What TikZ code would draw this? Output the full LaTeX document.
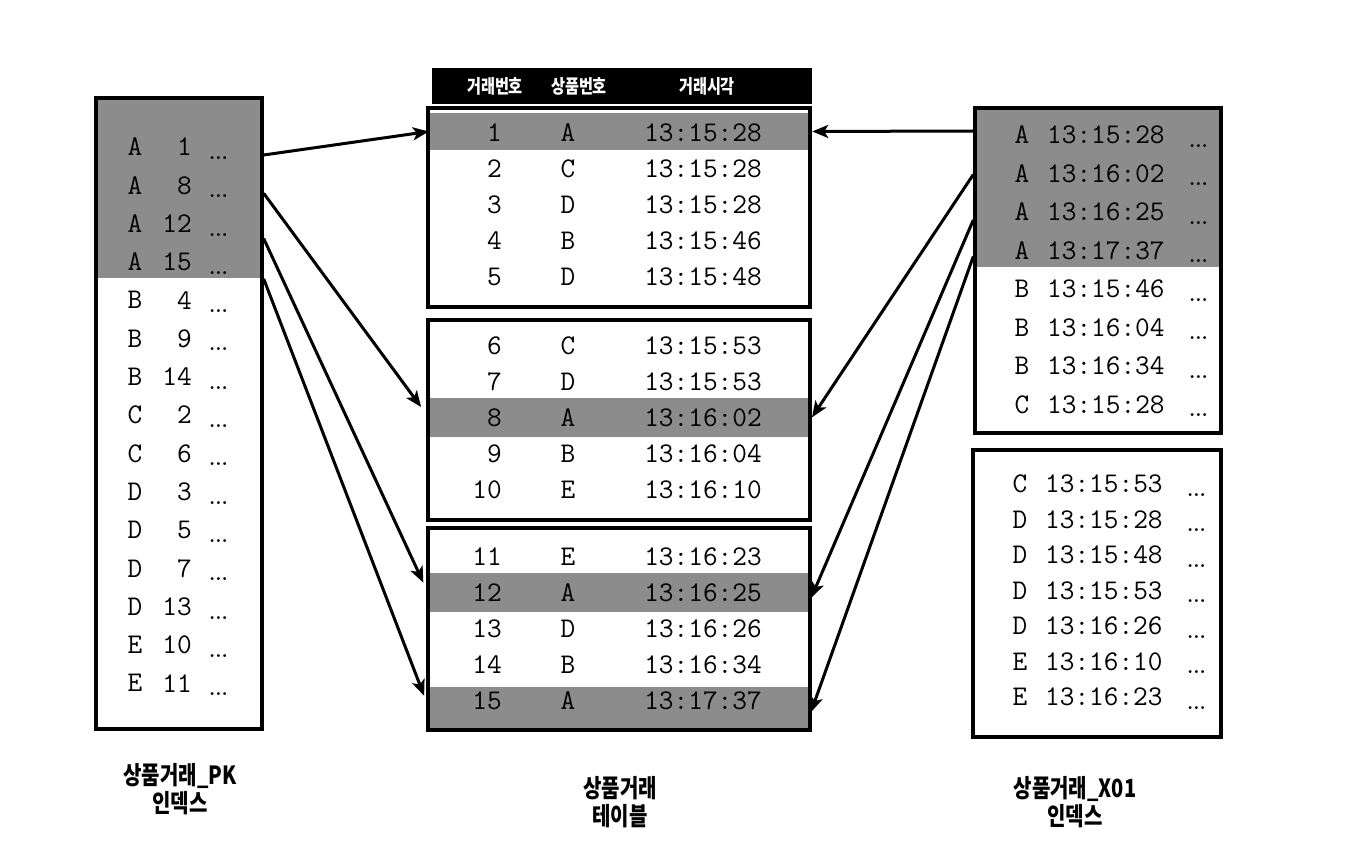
\documentclass[tikz,border=0pt]{standalone}
\usepackage{fontspec}
\newfontfamily\kofont{Noto Sans CJK KR}
\usepackage{graphicx}
\usepackage{tikz}
\usetikzlibrary{arrows.meta,calc}

\tikzset{
  tbox/.style={draw=black,line width=3.4pt,inner sep=0pt,fill=none},
  hit/.style={fill=black!45,draw=none,inner sep=0pt},
  cell/.style={inner sep=0pt,font=\fontsize{28.5}{28.5}\selectfont\ttfamily},
  dots/.style={inner sep=0pt,anchor=west,font=\fontsize{20}{20}\selectfont\rmfamily\bfseries},
  headtxt/.style={inner sep=0pt,text=white,font=\fontsize{19}{19}\selectfont\kofont\bfseries},
  caption/.style={align=center,inner sep=0pt,font=\fontsize{25}{28}\selectfont\kofont\bfseries},
  link/.style={line width=3pt,-{Stealth[length=16pt,width=13pt,inset=4pt]}},
}
\newcommand{\narrow}[1]{\scalebox{0.8}[1]{#1}}

\begin{document}
\begin{tikzpicture}[x=1pt,y=1pt,yscale=-1,xscale=1]
\useasboundingbox (0,0) rectangle (1366,842);

%Shape: shaded parts
\fill[black!45] (96,98) rectangle (262,278);
\fill[black!45] (975,108) rectangle (1221,267);
\node[hit,minimum width=380pt,minimum height=37pt] (tr1) at (619,131.5) {};
\node[hit,minimum width=380pt,minimum height=39pt] (tr8) at (619,417.5) {};
\node[hit,minimum width=380pt,minimum height=39pt] (tr12) at (619,592.5) {};
\node[hit,minimum width=380pt,minimum height=42pt] (tr15) at (619,708) {};

%Shape: boxes
\node[tbox,minimum width=166pt,minimum height=631pt] (pkbox) at (179,413.5) {};
\node[tbox,minimum width=382pt,minimum height=199pt] (tab1) at (619,207.5) {};
\node[tbox,minimum width=382pt,minimum height=200pt] (tab2) at (619,420) {};
\node[tbox,minimum width=382pt,minimum height=202pt] (tab3) at (619,629) {};
\node[tbox,minimum width=246pt,minimum height=325pt] (xabox) at (1098,270.5) {};
\node[tbox,minimum width=248pt,minimum height=287pt] (xbbox) at (1097,593.5) {};

%Shape: table head
\node[fill=black,inner sep=0pt,minimum width=380pt,minimum height=36pt] (head) at (622,86) {};
\node[headtxt] (h1) at (495,86) {\narrow{거래번호}};
\node[headtxt] (h2) at (579,86) {\narrow{상품번호}};
\node[headtxt] (h3) at (707,86) {\narrow{거래시각}};

% PK index rows
\foreach \k/\n [count=\i] in {A/1,A/8,A/12,A/15,B/4,B/9,B/14,C/2,C/6,D/3,D/5,D/7,D/13,E/10,E/11}{
  \pgfmathsetmacro\ry{147+38.3*(\i-1)}
  \node[cell] (pkr\i) at (135,\ry) {\k};
  \node[cell,anchor=east] (pkn\i) at (192,\ry) {\n};
  \node[dots] (pkd\i) at (209,\ry+11) {...};
}

% table rows
\foreach \n/\k/\t/\ry in {1/A/13:15:28/133,2/C/13:15:28/169,3/D/13:15:28/205,4/B/13:15:46/241,5/D/13:15:48/277,
  6/C/13:15:53/346,7/D/13:15:53/382,8/A/13:16:02/418,9/B/13:16:04/454,10/E/13:16:10/490,
  11/E/13:16:23/557,12/A/13:16:25/593,13/D/13:16:26/629,14/B/13:16:34/665,15/A/13:17:37/701}{
  \node[cell,anchor=east] (tn\n) at (502,\ry) {\n};
  \node[cell] (tk\n) at (568,\ry) {\k};
  \node[cell] (tt\n) at (703,\ry) {\t};
}

% X01 index rows
\foreach \k/\t [count=\i] in {A/13:15:28,A/13:16:02,A/13:16:25,A/13:17:37,B/13:15:46,B/13:16:04,B/13:16:34,C/13:15:28}{
  \pgfmathsetmacro\ry{135+38.5*(\i-1)}
  \node[cell] (xar\i) at (1022,\ry) {\k};
  \node[cell,anchor=west] (xat\i) at (1047,\ry) {\t};
  \node[dots] (xad\i) at (1189,\ry+11) {...};
}
\foreach \k/\t [count=\i] in {C/13:15:53,D/13:15:28,D/13:15:48,D/13:15:53,D/13:16:26,E/13:16:10,E/13:16:23}{
  \pgfmathsetmacro\ry{484+35.5*(\i-1)}
  \node[cell] (xbr\i) at (1020,\ry) {\k};
  \node[cell,anchor=west] (xbt\i) at (1045,\ry) {\t};
  \node[dots] (xbd\i) at (1187,\ry+11) {...};
}

% arrows
\foreach \i/\dy in {1/8,2/8,3/15,4/17}
  \coordinate (pkout\i) at ($(pkbox.east |- pkr\i)+(0,\dy)$);
\foreach \i/\dy in {1/-4,2/1,3/8,4/6}
  \coordinate (xout\i) at ($(xabox.west |- xar\i)+(0,\dy)$);

\draw[link] (pkout1) -- (tr1.west);
\draw[link,shorten >=13pt] (pkout2) -- (tr8.west);
\draw[link,shorten >=13pt] (pkout3) -- ($(tr12.west)+(0,2)$);
\draw[link,shorten >=13pt] (pkout4) -- (tr15.west);

\draw[link,shorten >=3pt] (xout1) -- (tr1.east);
\draw[link,shorten >=5pt] (xout2) -- ($(tr8.east)+(0,4)$);
\draw[link,shorten >=5pt] (xout3) -- ($(tr12.east)+(0,10)$);
\draw[link,shorten >=5pt] (xout4) -- ($(tr15.east)+(0,9)$);

% Text Node
\node[caption] (pkcap) at (180,789) {\narrow{상품거래\_PK}\\\narrow{인덱스}};
% Text Node
\node[caption] (tabcap) at (620,802) {\narrow{상품거래}\\\narrow{테이블}};
% Text Node
\node[caption] (xcap) at (1075,802) {\narrow{상품거래\_X01}\\\narrow{인덱스}};

\end{tikzpicture}
\end{document}
